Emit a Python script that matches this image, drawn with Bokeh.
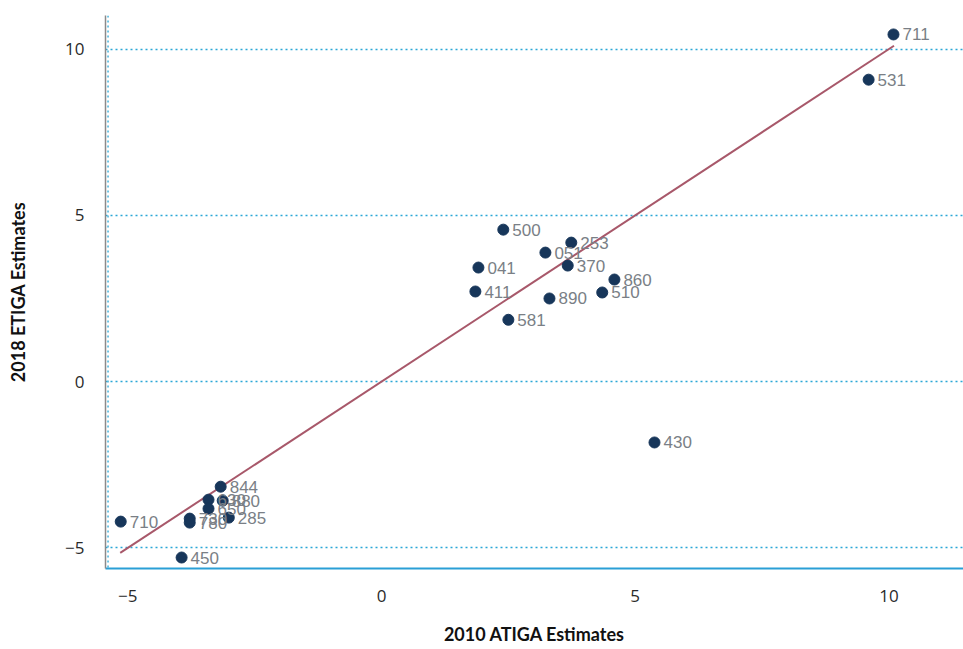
from bokeh.plotting import figure
from bokeh.models import ColumnDataSource, Range1d, Span, FixedTicker
from bokeh.core.properties import value
from bokeh.embed import file_html
from bokeh.resources import INLINE

# Product codes with their 2010 ATIGA and 2018 ETIGA estimates
codes = ["711", "531", "500", "253", "051", "370", "041", "860", "411", "510",
         "890", "581", "430", "844", "630", "880", "650", "285", "730", "780",
         "710", "450"]
atiga_2010 = [10.09, 9.60, 2.40, 3.74, 3.23, 3.67, 1.91, 4.59, 1.85, 4.35,
              3.31, 2.50, 5.38, -3.17, -3.41, -3.13, -3.41, -3.01, -3.78, -3.78,
              -5.14, -3.94]
etiga_2018 = [10.44, 9.08, 4.57, 4.18, 3.88, 3.49, 3.43, 3.07, 2.71, 2.68,
              2.50, 1.86, -1.83, -3.16, -3.55, -3.58, -3.82, -4.09, -4.12, -4.24,
              -4.21, -5.29]

# 45-degree reference line end points
diag_x = [-5.15, 10.1]
diag_y = [-5.15, 10.1]

tick_values = [-5, 0, 5, 10]

src = ColumnDataSource(dict(x=atiga_2010, y=etiga_2018, code=codes))

p = figure(width=963, height=649, output_backend="svg", toolbar_location=None,
           x_range=Range1d(-5.44, 11.47), y_range=Range1d(-5.62, 11.01),
           min_border_left=105, min_border_right=0, min_border_top=15,
           min_border_bottom=81)
p.outline_line_color = None
p.background_fill_color = "white"
p.border_fill_color = "white"

# grid: dotted horizontal lines only
p.xgrid.grid_line_color = None
p.ygrid.grid_line_color = "#2aa7d6"
p.ygrid.grid_line_dash = "2 3"
p.ygrid.grid_line_width = 1.3
p.xaxis.ticker = FixedTicker(ticks=tick_values)
p.yaxis.ticker = FixedTicker(ticks=tick_values)

for ax in (p.xaxis[0], p.yaxis[0]):
    ax.major_tick_line_color = None
    ax.minor_tick_line_color = None
    ax.major_label_text_font = "Open Sans"
    ax.major_label_text_font_size = "17px"
    ax.major_label_text_color = "#2a2a2a"
    ax.major_label_standoff = 15
    ax.axis_label_text_font = "Lato"
    ax.axis_label_text_font_style = "bold"
    ax.axis_label_text_font_size = "18px"
    ax.axis_label_text_color = "#111111"

p.xaxis.axis_label = "2010 ATIGA Estimates"
p.yaxis.axis_label = "2018 ETIGA Estimates"
p.xaxis.axis_line_color = "#2a9fd6"
p.xaxis.axis_line_width = 2
p.yaxis.axis_line_color = "#8a8a8a"
p.yaxis.axis_line_width = 1.5
p.xaxis.axis_label_standoff = 18
p.yaxis.axis_label_standoff = 33

# dotted edge along the left side of the frame
p.add_layout(Span(location=-5.39, dimension="height", line_color="#2aa7d6",
                  line_dash="2 3", line_width=1.3))

p.line(diag_x, diag_y, line_color="#a8586a", line_width=2)

p.scatter("x", "y", source=src, size=11, color="#17365a")
p.text("x", "y", text="code", source=src, x_offset=9, text_baseline="middle",
       text_font=value("Liberation Sans"), text_font_size="17px",
       text_color="#7a7f86")

open("out.html", "w").write(file_html(p, INLINE))
